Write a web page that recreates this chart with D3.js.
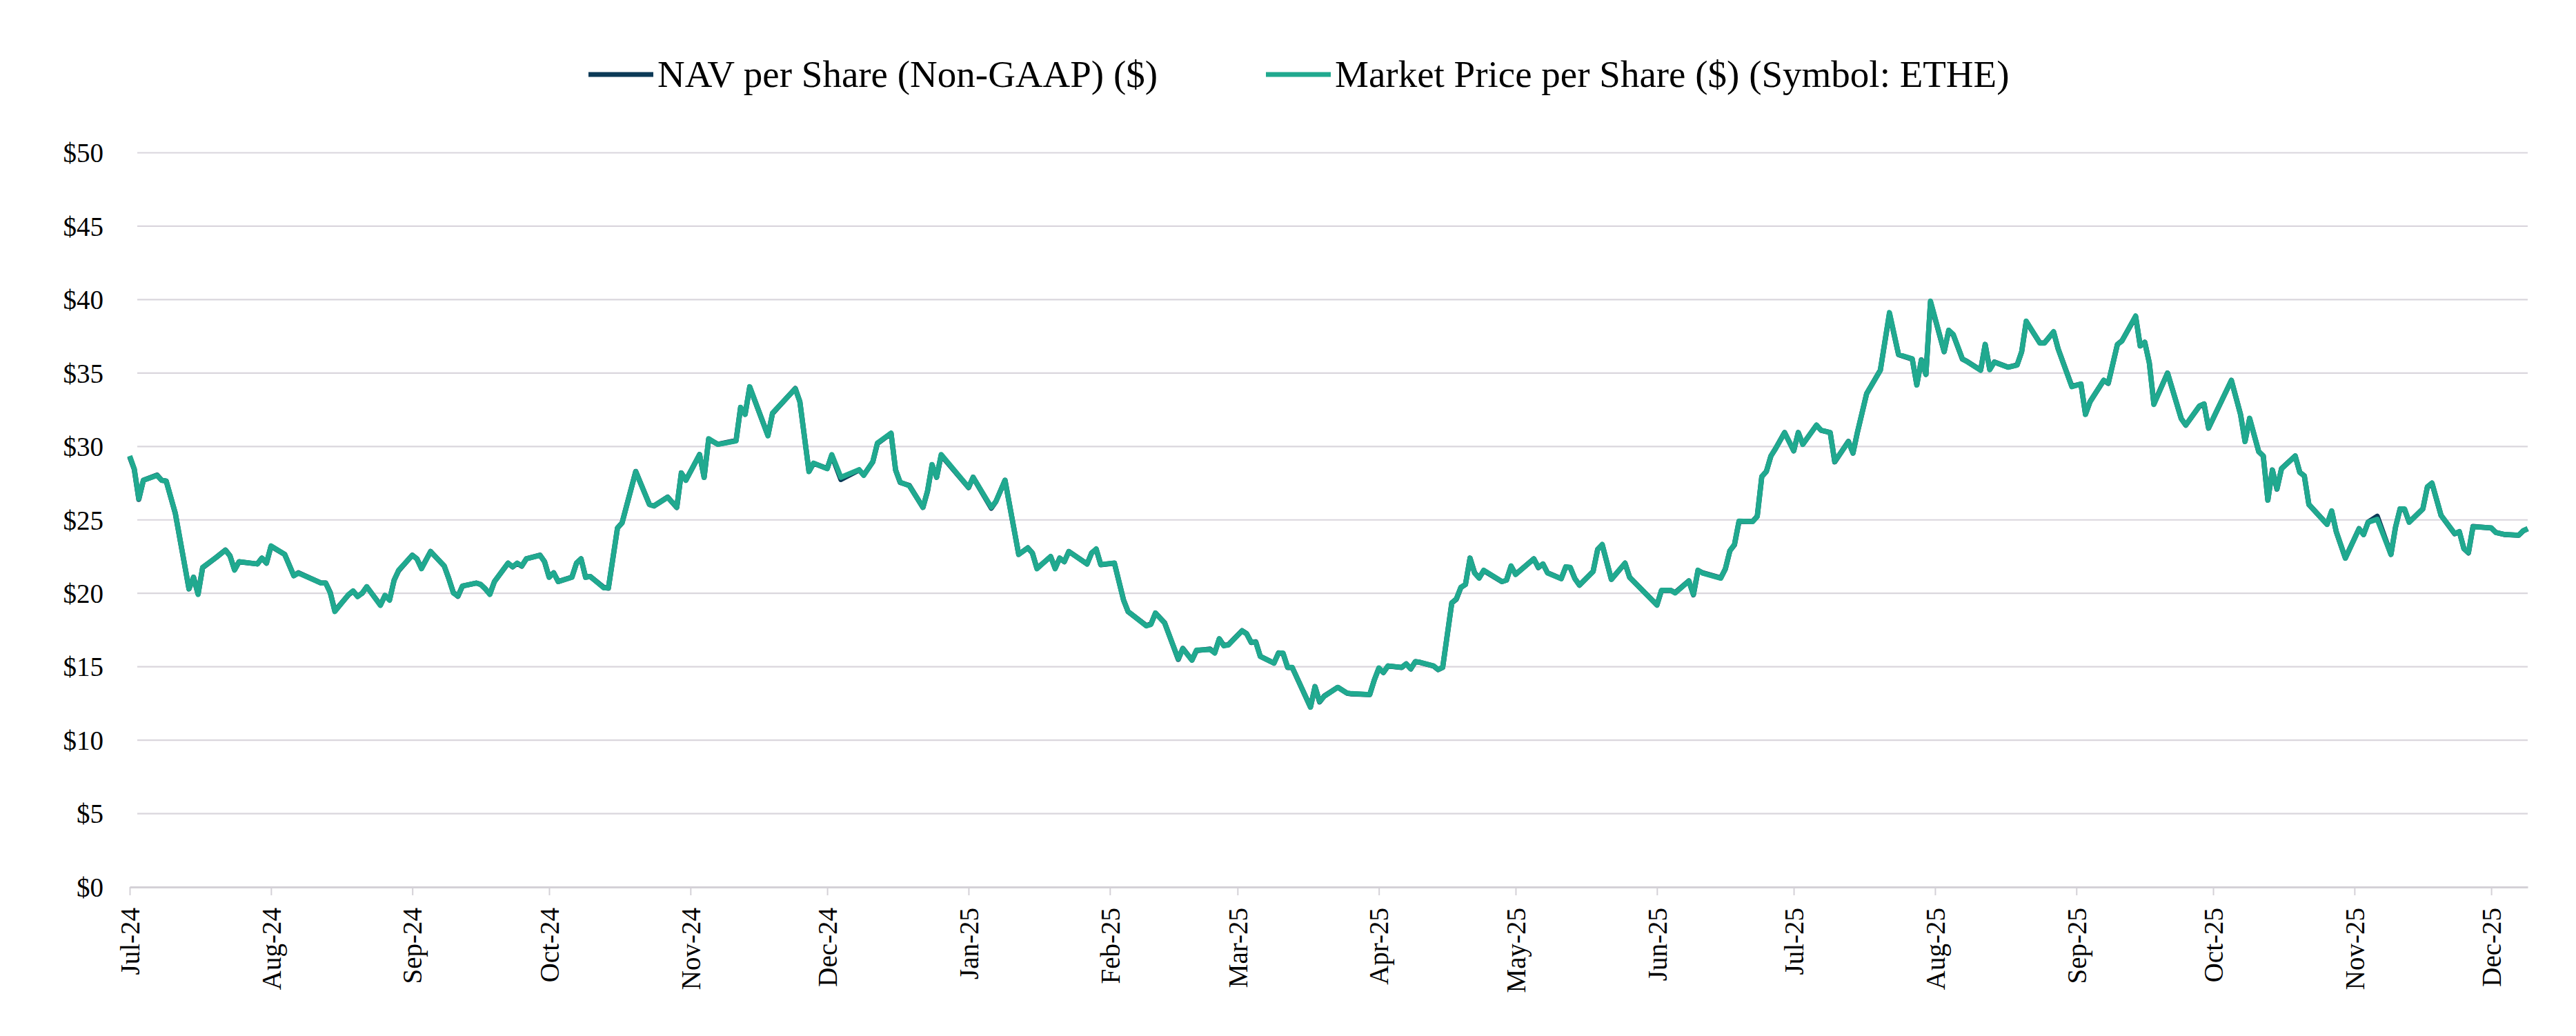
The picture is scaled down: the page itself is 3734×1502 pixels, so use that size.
<!DOCTYPE html>
<html><head><meta charset="utf-8">
<script src="https://cdn.jsdelivr.net/npm/d3@7"></script>
<style>html,body{margin:0;padding:0;background:#fff;} svg{display:block;}</style>
</head><body>
<svg id="chart" width="3734" height="1502"></svg>
<script>
const seriesNames = ["NAV per Share (Non-GAAP) ($)", "Market Price per Share ($) (Symbol: ETHE)"];
const seriesColors = ["#0C3A57", "#20A98F"];

const dates = [
  "2024-07-01","2024-07-02","2024-07-03","2024-07-04","2024-07-07","2024-07-08","2024-07-09","2024-07-11","2024-07-14","2024-07-15","2024-07-16","2024-07-17","2024-07-20","2024-07-22","2024-07-23","2024-07-24","2024-07-25","2024-07-29","2024-07-30","2024-07-31",
  "2024-08-01","2024-08-04","2024-08-06","2024-08-07","2024-08-12","2024-08-13","2024-08-14","2024-08-15","2024-08-18","2024-08-19","2024-08-20","2024-08-21","2024-08-22","2024-08-25","2024-08-26","2024-08-27","2024-08-28","2024-08-29",
  "2024-09-01","2024-09-02","2024-09-03","2024-09-05","2024-09-08","2024-09-09","2024-09-10","2024-09-11","2024-09-12","2024-09-15","2024-09-16","2024-09-17","2024-09-18","2024-09-19","2024-09-22","2024-09-23","2024-09-24","2024-09-25","2024-09-26","2024-09-29","2024-09-30",
  "2024-10-01","2024-10-02","2024-10-03","2024-10-06","2024-10-07","2024-10-08","2024-10-09","2024-10-10","2024-10-13","2024-10-14","2024-10-16","2024-10-17","2024-10-20","2024-10-23","2024-10-24","2024-10-27","2024-10-29","2024-10-30","2024-10-31",
  "2024-11-03","2024-11-04","2024-11-05","2024-11-07","2024-11-11","2024-11-12","2024-11-13","2024-11-14","2024-11-18","2024-11-19","2024-11-24","2024-11-25","2024-11-27","2024-11-28",
  "2024-12-01","2024-12-02","2024-12-04","2024-12-08","2024-12-09","2024-12-11","2024-12-12","2024-12-15","2024-12-16","2024-12-17","2024-12-19","2024-12-22","2024-12-23","2024-12-24","2024-12-25","2024-12-26",
  "2025-01-01","2025-01-02","2025-01-06","2025-01-07","2025-01-09","2025-01-12","2025-01-14","2025-01-15","2025-01-16","2025-01-19","2025-01-20","2025-01-21","2025-01-22","2025-01-23","2025-01-27","2025-01-28","2025-01-29","2025-01-30",
  "2025-02-02","2025-02-04","2025-02-05","2025-02-09","2025-02-10","2025-02-11","2025-02-13","2025-02-16","2025-02-17","2025-02-19","2025-02-20","2025-02-23","2025-02-24","2025-02-25","2025-02-26","2025-02-27",
  "2025-03-02","2025-03-03","2025-03-04","2025-03-05","2025-03-06","2025-03-09","2025-03-10","2025-03-11","2025-03-12","2025-03-13","2025-03-17","2025-03-18","2025-03-19","2025-03-20","2025-03-23","2025-03-25","2025-03-26","2025-03-30","2025-03-31",
  "2025-04-01","2025-04-02","2025-04-03","2025-04-06","2025-04-07","2025-04-08","2025-04-09","2025-04-10","2025-04-13","2025-04-14","2025-04-15","2025-04-17","2025-04-18","2025-04-19","2025-04-20","2025-04-21","2025-04-22","2025-04-23","2025-04-24","2025-04-28","2025-04-29","2025-04-30",
  "2025-05-01","2025-05-05","2025-05-06","2025-05-07","2025-05-08","2025-05-11","2025-05-12","2025-05-13","2025-05-14","2025-05-15","2025-05-18","2025-05-19","2025-05-20","2025-05-22","2025-05-25","2025-05-26",
  "2025-06-01","2025-06-02","2025-06-04","2025-06-05","2025-06-08","2025-06-09","2025-06-10","2025-06-11","2025-06-15","2025-06-16","2025-06-17","2025-06-18","2025-06-19","2025-06-22","2025-06-23","2025-06-24","2025-06-25","2025-06-26","2025-06-27","2025-06-29",
  "2025-07-01","2025-07-02","2025-07-03","2025-07-06","2025-07-07","2025-07-09","2025-07-10","2025-07-13","2025-07-14","2025-07-15","2025-07-17","2025-07-20","2025-07-22","2025-07-24","2025-07-27","2025-07-28","2025-07-29","2025-07-30","2025-07-31",
  "2025-08-03","2025-08-04","2025-08-05","2025-08-07","2025-08-08","2025-08-11","2025-08-12","2025-08-13","2025-08-14","2025-08-17","2025-08-19","2025-08-20","2025-08-21","2025-08-24","2025-08-25","2025-08-27","2025-08-28","2025-08-31",
  "2025-09-02","2025-09-03","2025-09-04","2025-09-07","2025-09-08","2025-09-10","2025-09-11","2025-09-14","2025-09-15","2025-09-16","2025-09-17","2025-09-18","2025-09-21","2025-09-24","2025-09-25","2025-09-28","2025-09-29","2025-09-30",
  "2025-10-05","2025-10-07","2025-10-08","2025-10-09","2025-10-11","2025-10-12","2025-10-13","2025-10-14","2025-10-15","2025-10-16","2025-10-19","2025-10-20","2025-10-21","2025-10-22","2025-10-26","2025-10-27","2025-10-28","2025-10-30",
  "2025-11-02","2025-11-03","2025-11-04","2025-11-06","2025-11-09","2025-11-10","2025-11-11","2025-11-12","2025-11-13","2025-11-16","2025-11-17","2025-11-18","2025-11-20","2025-11-23","2025-11-24","2025-11-25","2025-11-26","2025-11-27",
  "2025-12-01","2025-12-02","2025-12-04","2025-12-07","2025-12-08","2025-12-09"
];

const marketPrice = [
  29.36,28.48,26.44,27.70,28.03,27.70,27.65,25.47,20.31,21.09,19.92,21.77,22.45,22.94,22.55,21.58,22.16,22.00,22.40,22.06,
  23.23,22.65,21.19,21.38,20.70,20.70,20.02,18.76,19.92,20.16,19.77,20.02,20.45,19.18,19.86,19.53,20.89,21.58,
  22.59,22.35,21.67,22.84,21.87,20.99,20.02,19.82,20.50,20.70,20.60,20.31,19.92,20.80,22.06,21.81,22.06,21.87,22.35,22.59,22.16,
  21.09,21.38,20.80,21.09,22.06,22.35,21.09,21.15,20.37,20.37,24.46,24.79,28.29,26.05,25.95,26.54,25.86,28.19,27.70,
  29.45,27.89,30.53,30.14,30.37,32.67,32.18,34.07,30.72,32.28,33.93,33.05,28.29,28.87,
  28.48,29.45,27.90,28.42,28.03,28.97,30.23,30.91,28.39,27.57,27.32,25.86,26.98,28.77,27.90,29.45,
  27.22,27.90,25.86,26.25,27.70,22.65,23.09,22.74,21.67,22.51,21.67,22.40,22.16,22.84,22.00,22.74,23.03,21.96,
  22.06,19.53,18.76,17.78,17.88,18.66,17.98,15.54,16.23,15.45,16.13,16.17,15.93,16.91,16.42,16.48,
  17.45,17.24,16.67,16.67,15.70,15.25,15.93,15.93,14.96,14.96,12.24,13.64,12.63,12.98,13.60,13.21,13.17,13.11,14.09,
  14.92,14.61,15.06,14.96,15.19,14.86,15.35,15.31,15.06,14.81,14.96,19.34,19.63,20.41,20.60,22.39,21.38,21.03,21.58,20.80,20.89,21.87,
  21.28,22.35,21.77,22.00,21.38,20.99,21.81,21.77,20.99,20.56,21.48,22.98,23.33,20.95,22.06,21.09,
  19.20,20.21,20.21,20.02,20.84,19.92,21.58,21.38,21.03,21.67,22.90,23.33,24.92,24.88,25.23,27.96,28.29,29.36,29.84,30.95,
  29.71,30.95,30.14,31.46,31.11,30.95,28.97,30.33,29.55,31.01,33.60,35.19,39.12,36.26,35.97,34.18,35.88,34.90,39.90,
  36.46,37.92,37.63,35.97,35.78,35.19,36.95,35.23,35.74,35.39,35.54,36.46,38.54,37.04,37.04,37.82,36.65,34.07,
  34.26,32.18,33.05,34.51,34.32,36.95,37.18,38.89,36.85,37.10,35.68,32.86,35.00,31.89,31.46,32.76,32.90,31.26,
  34.51,32.18,30.33,31.93,29.65,29.36,26.34,28.39,27.12,28.48,29.36,28.23,28.00,26.05,24.69,25.62,24.20,22.39,
  24.39,24.00,24.84,25.04,22.65,24.49,25.75,25.75,24.84,25.75,27.26,27.51,25.31,24.07,24.20,23.04,22.78,24.53,
  24.46,24.14,24.01,23.95,24.26,24.40
];

const navPerShare = [
  29.30,28.45,26.40,27.70,28.05,27.70,27.65,25.45,20.30,21.10,19.95,21.75,22.45,22.95,22.55,21.60,22.15,22.00,22.40,22.05,
  23.20,22.65,21.20,21.40,20.70,20.70,20.05,18.80,19.90,20.15,19.80,20.00,20.45,19.20,19.85,19.55,20.90,21.55,
  22.60,22.35,21.70,22.85,21.85,21.00,20.05,19.80,20.50,20.70,20.60,20.30,19.95,20.80,22.05,21.80,22.05,21.85,22.35,22.60,22.15,
  21.10,21.40,20.80,21.10,22.05,22.35,21.10,21.15,20.40,20.35,24.45,24.80,28.30,26.05,25.95,26.55,25.85,28.20,27.70,
  29.45,27.90,30.50,30.15,30.40,32.65,32.20,34.05,30.75,32.25,33.95,33.05,28.30,28.85,
  28.50,29.40,27.75,28.40,28.05,28.95,30.20,30.90,28.40,27.55,27.35,25.85,26.95,28.75,27.90,29.40,
  27.20,27.90,25.80,26.25,27.70,22.65,23.10,22.75,21.70,22.50,21.70,22.40,22.15,22.85,22.00,22.75,23.00,21.95,
  22.05,19.55,18.75,17.80,17.90,18.65,18.00,15.50,16.25,15.45,16.10,16.20,15.95,16.90,16.45,16.50,
  17.45,17.25,16.65,16.70,15.70,15.25,15.95,15.90,14.95,14.95,12.25,13.65,12.60,13.00,13.60,13.20,13.15,13.10,14.10,
  14.90,14.60,15.05,14.95,15.20,14.85,15.35,15.30,15.05,14.80,14.95,19.35,19.60,20.40,20.60,22.40,21.40,21.05,21.55,20.80,20.90,21.85,
  21.30,22.35,21.75,22.00,21.40,21.00,21.80,21.75,21.00,20.55,21.50,23.00,23.30,20.95,22.05,21.10,
  19.20,20.20,20.20,20.05,20.85,19.90,21.55,21.40,21.05,21.65,22.90,23.30,24.90,24.90,25.25,27.95,28.30,29.35,29.85,30.95,
  29.70,30.95,30.15,31.45,31.10,30.95,28.95,30.35,29.55,31.00,33.60,35.20,39.05,36.25,35.95,34.20,35.90,34.90,39.85,
  36.45,37.90,37.60,35.95,35.80,35.20,36.95,35.25,35.75,35.40,35.55,36.45,38.50,37.05,37.05,37.80,36.65,34.10,
  34.25,32.20,33.05,34.50,34.30,36.95,37.20,38.85,36.85,37.10,35.70,32.90,35.00,31.90,31.45,32.75,32.90,31.25,
  34.50,32.20,30.35,31.90,29.65,29.35,26.35,28.40,27.10,28.50,29.35,28.25,28.00,26.05,24.70,25.60,24.20,22.40,
  24.40,24.00,24.85,25.25,22.65,24.50,25.75,25.70,24.85,25.75,27.25,27.50,25.30,24.05,24.20,23.05,22.75,24.55,
  24.45,24.15,24.00,23.95,24.25,24.40
];

const yTickValues = [0, 5, 10, 15, 20, 25, 30, 35, 40, 45, 50];
const xDomainDates = ["2024-07-01", "2025-12-09"];

const W = 3734, H = 1502;
const plot = {left: 188, right: 3664, top: 221.5, bottom: 1286};
const FONT = "'Liberation Serif','Times New Roman',Times,serif";
const parse = d3.timeParse("%Y-%m-%d");

const x = d3.scaleTime().domain(xDomainDates.map(parse)).range([plot.left, plot.right]);
const y = d3.scaleLinear().domain([0, 50]).range([plot.bottom, plot.top]);

const svg = d3.select("#chart");
svg.append("rect").attr("width", W).attr("height", H).attr("fill", "#fff");

// gridlines
svg.append("g").selectAll("line")
  .data(yTickValues.filter(d => d > 0))
  .join("line")
  .attr("x1", plot.left + 11).attr("x2", plot.right)
  .attr("y1", d => y(d)).attr("y2", d => y(d))
  .attr("stroke", "#DAD6DD").attr("stroke-width", 2.2);

// y axis
const yAxis = d3.axisLeft(y).tickValues(yTickValues).tickFormat(d => "$" + d).tickSize(0).tickPadding(38);
const gy = svg.append("g").attr("transform", `translate(${plot.left},0)`).call(yAxis);
gy.select(".domain").remove();
gy.selectAll("text").attr("font-family", FONT).attr("font-size", 39).attr("fill", "#000").attr("dy", "0.34em");

// x axis
const xAxis = d3.axisBottom(x).ticks(d3.timeMonth.every(1)).tickFormat(d3.timeFormat("%b-%y")).tickSize(12).tickSizeOuter(0);
const gx = svg.append("g").attr("transform", `translate(0,${plot.bottom})`).call(xAxis);
gx.select(".domain").attr("stroke", "#D4D1D7").attr("stroke-width", 3);
gx.selectAll(".tick line").attr("stroke", "#D4D1D7").attr("stroke-width", 2);
gx.selectAll(".tick text")
  .attr("font-family", FONT).attr("font-size", 39).attr("fill", "#000")
  .attr("x", 0).attr("y", 0).attr("dy", "0.34em")
  .attr("text-anchor", "end")
  .attr("transform", "translate(0,30) rotate(-90)");

// lines
const parsedDates = dates.map(parse);
const seriesValues = [navPerShare, marketPrice];
const line = d3.line().x(d => x(d[0])).y(d => y(d[1])).curve(d3.curveLinear);
seriesValues.forEach((vals, i) => {
  const pts = parsedDates.map((d, j) => [d, vals[j]]);
  svg.append("path")
    .attr("d", line(pts))
    .attr("fill", "none")
    .attr("stroke", seriesColors[i])
    .attr("stroke-width", 7.5)
    .attr("stroke-linejoin", "round")
    .attr("stroke-linecap", "butt");
});

// legend
const legend = svg.append("g");
const legendX = [853, 1835];
const ly = 108;
seriesNames.forEach((name, i) => {
  const lx = legendX[i];
  legend.append("line")
    .attr("x1", lx).attr("x2", lx + 94).attr("y1", ly).attr("y2", ly)
    .attr("stroke", seriesColors[i]).attr("stroke-width", 7);
  legend.append("text")
    .attr("x", lx + 100).attr("y", ly).attr("dy", "0.33em")
    .attr("font-family", FONT).attr("font-size", 55).attr("fill", "#000")
    .text(name);
});
</script>
</body></html>
